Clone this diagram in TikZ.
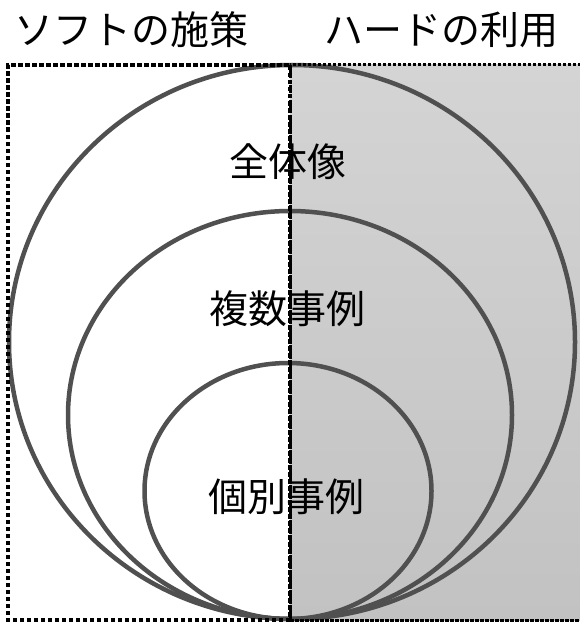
\documentclass[tikz,border=0pt]{standalone}
\usepackage{fontspec}
\setmainfont{Noto Sans CJK JP}
\definecolor{ringgray}{HTML}{505050}
\definecolor{shadetop}{HTML}{D4D4D4}
\definecolor{shadebot}{HTML}{C2C2C2}
\begin{document}
\begin{tikzpicture}[x=1pt,y=-1pt,
  ring/.style={draw=ringgray,line width=4.5pt},
  leftborder/.style={draw=black,line width=4pt,dash pattern=on 4.5pt off 2.5pt},
  rightborder/.style={draw=black,line width=3pt,dash pattern=on 3.5pt off 1.5pt},
  lbl/.style={inner sep=0pt,font=\fontsize{39}{39}\selectfont,text=black}]
\useasboundingbox (0,0) rectangle (580,623);
% shaded right half
\shade[top color=shadetop,bottom color=shadebot] (290,65) rectangle (583,620);
% rings
\draw[ring] (292,342) ellipse [x radius=283,y radius=277];
\draw[ring] (290,415) ellipse [x radius=222,y radius=204];
\draw[ring] (288,491) ellipse [x radius=143.5,y radius=128];
% borders
\draw[rightborder] (290,65) rectangle (583,620);
\draw[leftborder] (290,620) -- (8,620) -- (8,65) -- (290,65) -- cycle;
% labels
\node[lbl] (soft) at (131,30) {ソフトの施策};
\node[lbl] (hard) at (441,30) {ハードの利用};
\node[lbl] (whole) at (288,162) {全体像};
\node[lbl] (multi) at (287,309) {複数事例};
\node[lbl] (single) at (286,497) {個別事例};
\end{tikzpicture}
\end{document}
